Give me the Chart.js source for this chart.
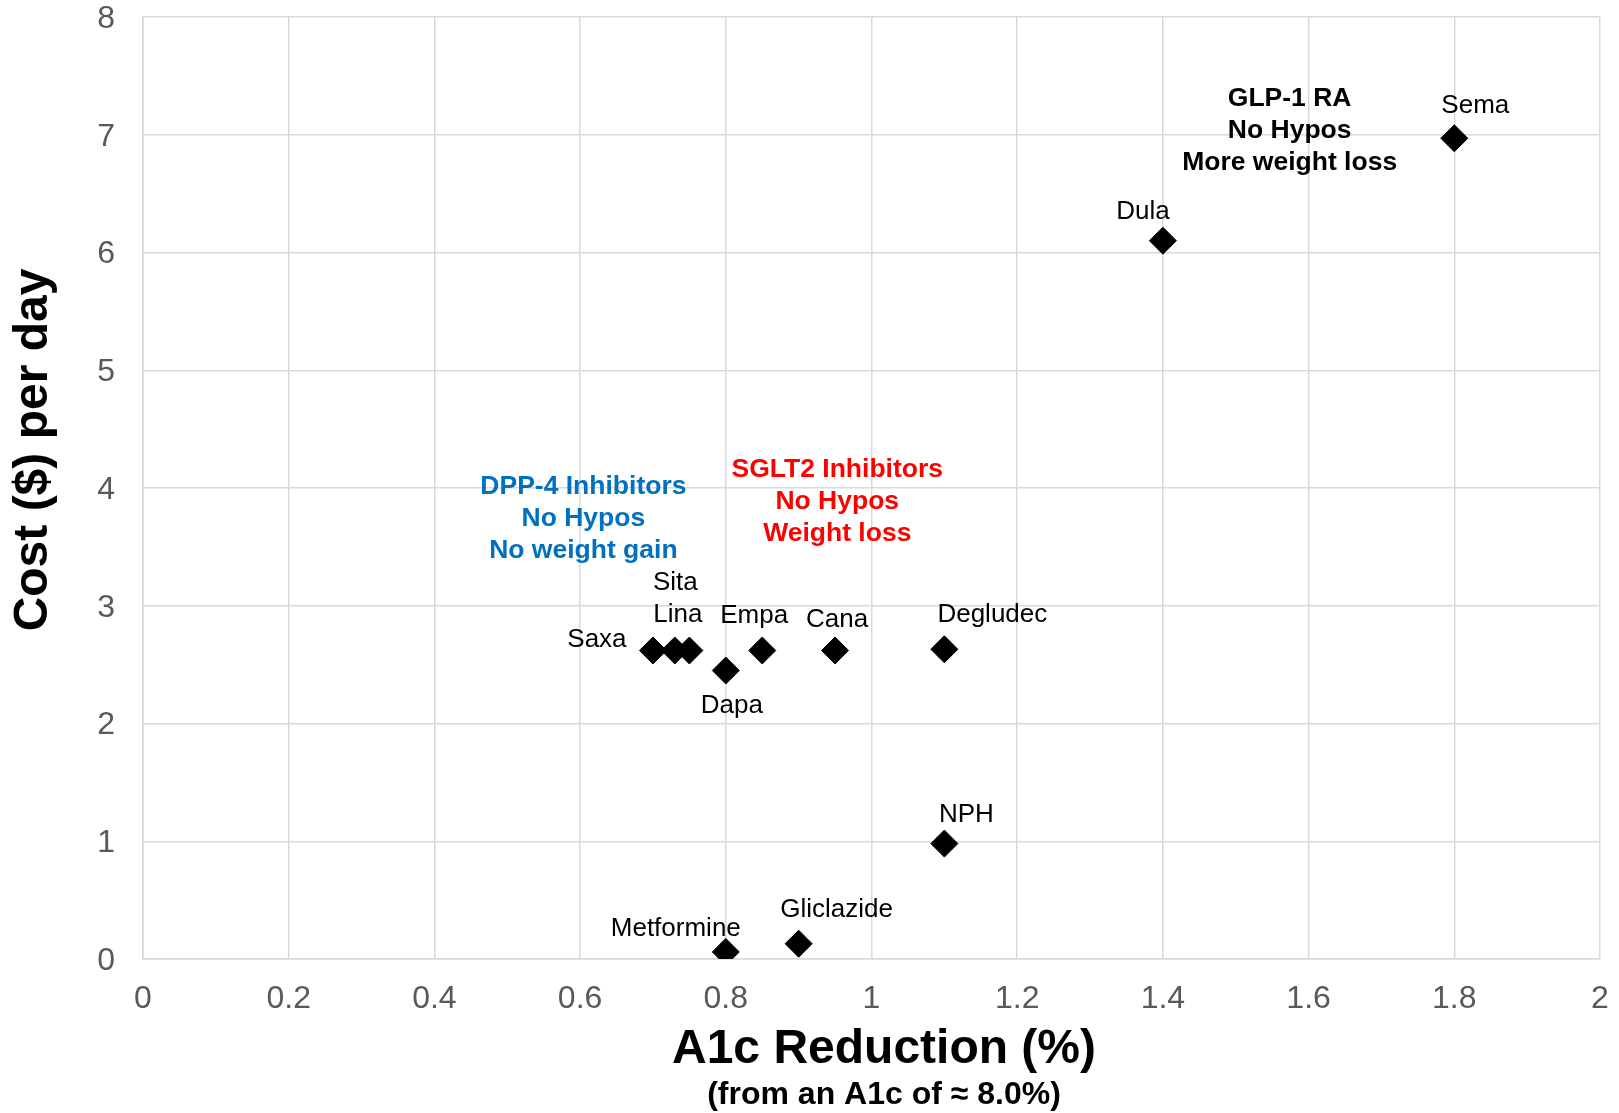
<!DOCTYPE html>
<html>
<head>
<meta charset="utf-8">
<script src="https://cdn.jsdelivr.net/npm/chart.js@4.4.0/dist/chart.umd.min.js"></script>
<style>
  html, body { margin: 0; padding: 0; background: #fff; }
  #wrap { width: 1619px; height: 1113px; }
</style>
</head>
<body>
<div id="wrap"><canvas id="chart" width="1619" height="1113"></canvas></div>
<script>
// Drugs: A1c reduction (%) vs cost per day ($)
const names = ["Saxa", "Lina", "Sita", "Dapa", "Empa", "Cana", "Degludec", "Metformine", "Gliclazide", "NPH", "Dula", "Sema"];
const a1cReduction = [0.70, 0.73, 0.75, 0.80, 0.85, 0.95, 1.10, 0.80, 0.90, 1.10, 1.40, 1.80];
const costPerDay = [2.62, 2.62, 2.62, 2.45, 2.62, 2.62, 2.63, 0.06, 0.13, 0.98, 6.10, 6.97];

const xTickLabels = ["0", "0.2", "0.4", "0.6", "0.8", "1", "1.2", "1.4", "1.6", "1.8", "2"];
const yTickLabels = ["0", "1", "2", "3", "4", "5", "6", "7", "8"];

// group notes
const groupLines = [
    ["DPP-4 Inhibitors", "No Hypos", "No weight gain"],
    ["SGLT2 Inhibitors", "No Hypos", "Weight loss"],
    ["GLP-1 RA", "No Hypos", "More weight loss"]
];
const groupColors = ["#0070C0", "#FF0000", "#000000"];
// anchor of the middle line, in axis units
const groupAnchors = [[0.6045, 3.74], [0.953, 3.885], [1.574, 7.035]];

// label offsets from each point, pixels (same order as names)
const labelOffsets = [
    [-56, -11], [3, -36], [-14, -68], [6, 35], [-8, -35], [2, -31],
    [48, -34], [-50, -23], [38, -34], [22, -29], [-20, -29], [21, -32]
];

const FONT = "'Liberation Sans', Arial, sans-serif";

const labelPlugin = {
    id: "pointLabels",
    afterDatasetsDraw(chart) {
        const ctx = chart.ctx;
        const meta = chart.getDatasetMeta(0);
        ctx.save();
        ctx.textAlign = "center";
        ctx.textBaseline = "middle";
        ctx.fillStyle = "#000";
        ctx.font = "26px " + FONT;
        meta.data.forEach((pt, i) => {
            ctx.fillText(names[i], pt.x + labelOffsets[i][0], pt.y + labelOffsets[i][1]);
        });

        ctx.font = "bold 26.5px " + FONT;
        const xs = chart.scales.x, ys = chart.scales.y;
        groupLines.forEach((lines, g) => {
            const cx = xs.getPixelForValue(groupAnchors[g][0]);
            const cy = ys.getPixelForValue(groupAnchors[g][1]);
            ctx.fillStyle = groupColors[g];
            lines.forEach((txt, k) => {
                ctx.fillText(txt, cx, cy + (k - 1) * 32);
            });
        });

        // axis titles
        ctx.fillStyle = "#000";
        ctx.font = "bold 48px " + FONT;
        ctx.fillText("A1c Reduction (%)", 884, 1050);
        ctx.font = "bold 32px " + FONT;
        ctx.fillText("(from an A1c of \u2248 8.0%)", 884, 1095);
        ctx.save();
        ctx.translate(34, 450);
        ctx.rotate(-Math.PI / 2);
        ctx.font = "bold 48px " + FONT;
        ctx.fillText("Cost ($) per day", 0, 0);
        ctx.restore();
        ctx.restore();
    }
};

new Chart(document.getElementById("chart"), {
    type: "scatter",
    data: {
        datasets: [{
            label: "Drugs",
            data: a1cReduction.map((x, i) => ({ x: x, y: costPerDay[i] })),
            pointStyle: "rectRot",
            pointRadius: 13.5,
            pointHoverRadius: 13.5,
            backgroundColor: "#000",
            borderColor: "#000",
            borderWidth: 1
        }]
    },
    options: {
        responsive: false,
        animation: false,
        layout: { padding: { top: 17, right: 19, left: 0, bottom: 0 } },
        plugins: {
            legend: { display: false },
            tooltip: { enabled: false }
        },
        scales: {
            x: {
                type: "linear",
                min: 0,
                max: 2,
                afterBuildTicks: (s) => { s.ticks = xTickLabels.map(t => ({ value: parseFloat(t) })); },
                afterFit: (s) => { s.height = 154; s.paddingLeft = 0; s.paddingRight = 0; },
                ticks: {
                    padding: 21,
                    color: "#595959",
                    font: { family: FONT, size: 32 },
                    maxRotation: 0,
                    autoSkip: false,
                    callback: (v, i) => xTickLabels[i]
                },
                grid: { color: "#d9d9d9", lineWidth: 1.5, drawTicks: false },
                border: { color: "#d9d9d9", width: 1.5 }
            },
            y: {
                type: "linear",
                min: 0,
                max: 8,
                afterBuildTicks: (s) => { s.ticks = yTickLabels.map(t => ({ value: parseFloat(t) })); },
                afterFit: (s) => { s.width = 143; s.paddingTop = 0; s.paddingBottom = 0; },
                ticks: {
                    padding: 28,
                    labelOffset: 2,
                    color: "#595959",
                    font: { family: FONT, size: 32 },
                    autoSkip: false,
                    callback: (v, i) => yTickLabels[i]
                },
                grid: { color: "#d9d9d9", lineWidth: 1.5, drawTicks: false },
                border: { color: "#d9d9d9", width: 1.5 }
            }
        }
    },
    plugins: [labelPlugin]
});
</script>
</body>
</html>
